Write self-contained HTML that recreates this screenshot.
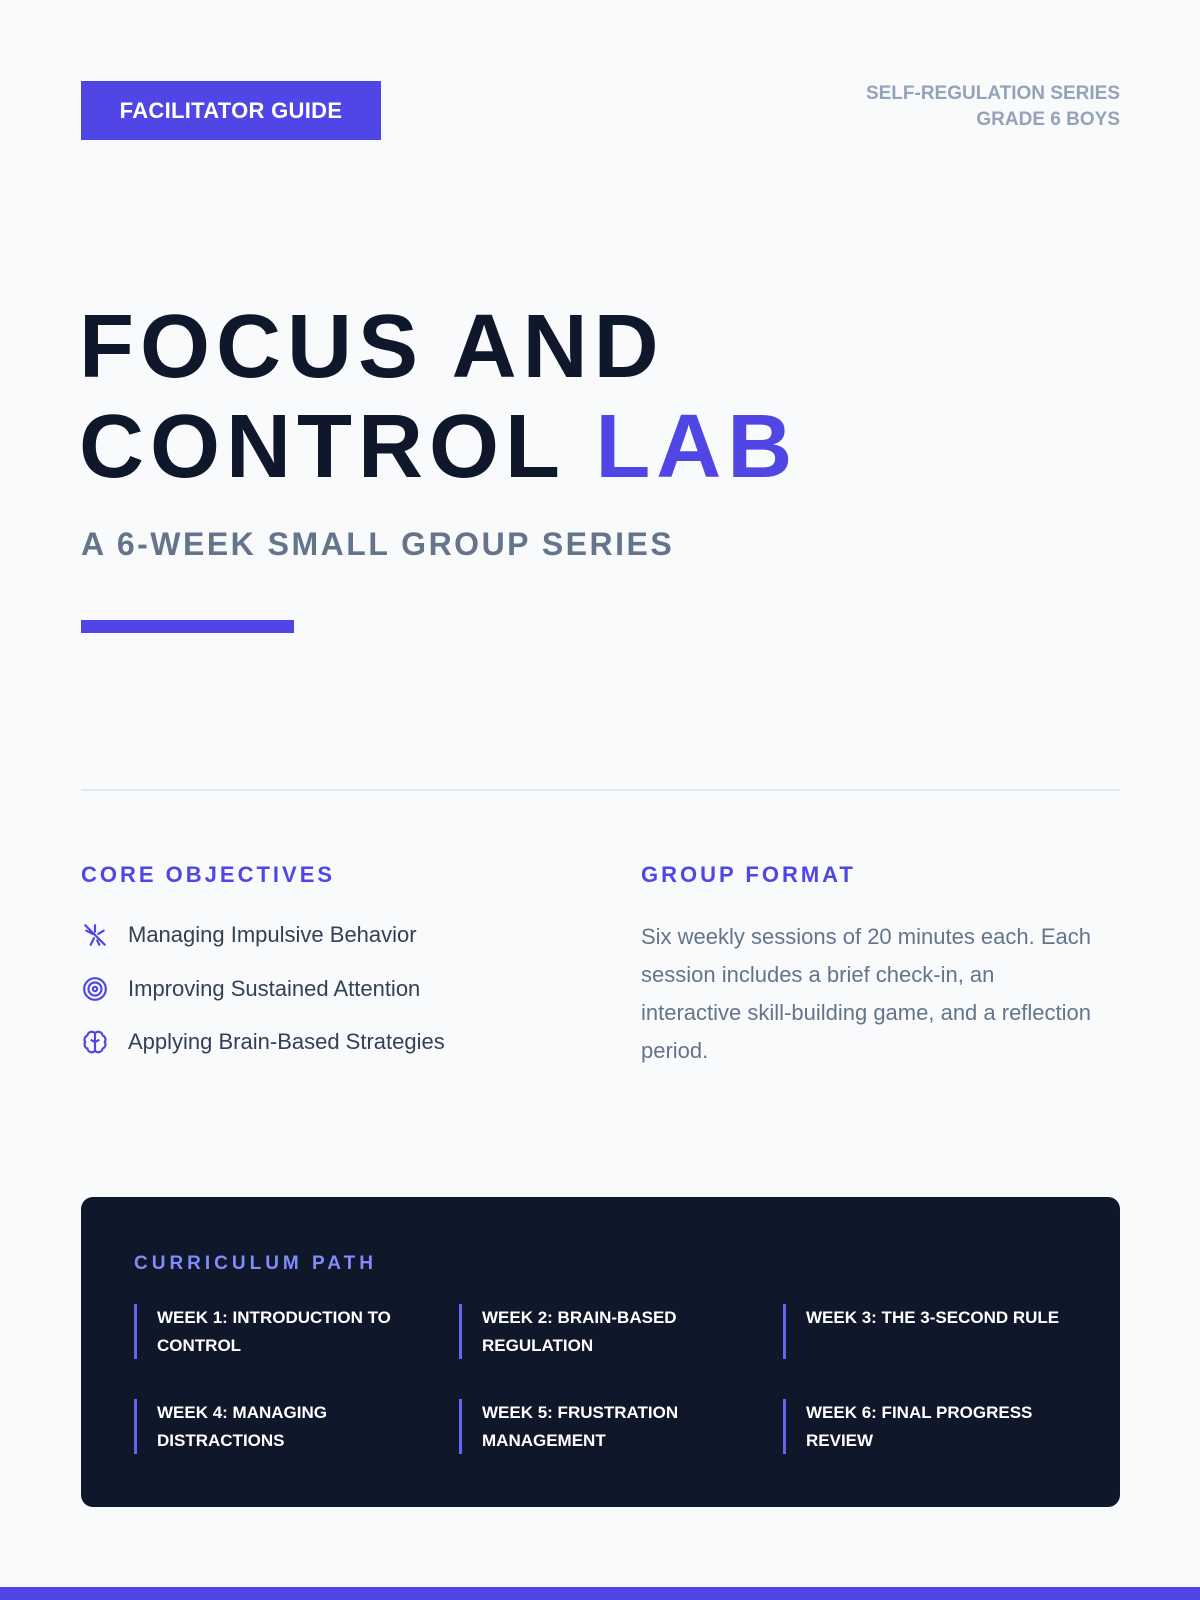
<!DOCTYPE html>
<html><head><meta charset="utf-8"><style>
*{margin:0;padding:0;box-sizing:border-box}
body{width:1200px;height:1600px;background:#f8fafc;font-family:"Liberation Sans",sans-serif;position:relative;overflow:hidden}
.a{position:absolute}
.badge{left:81px;top:81px;width:300px;height:59px;background:#4f46e5;color:#fff;font-weight:700;font-size:22px;line-height:59px;text-align:center;letter-spacing:0.3px}
.tr{right:80px;top:81px;text-align:right;color:#94a3b8;font-weight:700;font-size:19px;line-height:26px}
.title{left:79px;top:297px;font-size:90px;font-weight:900;line-height:100px;color:#0f172a;letter-spacing:6px}
.sub{left:81px;top:524px;font-size:32px;font-weight:700;color:#64748b;letter-spacing:2.5px;line-height:40px}
.h{font-size:22px;font-weight:700;color:#4f46e5;letter-spacing:3px;line-height:26px}
.obj{left:82px;font-size:22px;color:#334155;line-height:28px;display:flex;align-items:center}
.obj svg{width:26px;height:26px;margin-right:20px}
.para{left:641px;top:918px;width:453px;font-size:22px;line-height:38px;color:#64748b}
.box{left:81px;top:1197px;width:1039px;height:310px;background:#0f172a;border-radius:12px}
.item{border-left:3px solid #6366f1;padding-left:20px;height:55px;color:#fff;font-weight:700;font-size:17px;line-height:28px;width:300px}
</style></head><body>
<div class="a badge">FACILITATOR GUIDE</div>
<div class="a tr">SELF-REGULATION SERIES<br>GRADE 6 BOYS</div>
<div class="a title">FOCUS AND<br>CONTROL <span style="color:#4f46e5">LAB</span></div>
<div class="a sub">A 6-WEEK SMALL GROUP SERIES</div>
<div class="a" style="left:81px;top:620px;width:213px;height:13px;background:#4f46e5"></div>
<div class="a" style="left:81px;top:789px;width:1039px;height:2px;background:#e2e8f0"></div>
<div class="a h" style="left:81px;top:862px">CORE OBJECTIVES</div>
<div class="a h" style="left:641px;top:862px">GROUP FORMAT</div>
<div class="a obj" style="top:921px"><svg viewBox="0 0 24 24" fill="none" stroke="#4f46e5" stroke-width="2" stroke-linecap="round"><path d="M3 3l18 18M12 3v6M4 8l6 3M20 8l-5 3M8 21l3-6M16 21l-2-4"/></svg>Managing Impulsive Behavior</div>
<div class="a obj" style="top:975px"><svg viewBox="0 0 24 24" fill="none" stroke="#4f46e5" stroke-width="2"><circle cx="12" cy="12" r="10"/><circle cx="12" cy="12" r="6"/><circle cx="12" cy="12" r="2"/></svg>Improving Sustained Attention</div>
<div class="a obj" style="top:1028px"><svg viewBox="0 0 24 24" fill="none" stroke="#4f46e5" stroke-width="2" stroke-linejoin="round"><path d="M12 4a4 4 0 0 0-7 2 4 4 0 0 0-2 6 4 4 0 0 0 2 6 4 4 0 0 0 7 2a4 4 0 0 0 7-2 4 4 0 0 0 2-6 4 4 0 0 0-2-6 4 4 0 0 0-7-2zM12 4v16M8 10l4 2 4-2"/></svg>Applying Brain-Based Strategies</div>
<div class="a para">Six weekly sessions of 20 minutes each. Each session includes a brief check-in, an interactive skill-building game, and a reflection period.</div>
<div class="a box"></div>
<div class="a" style="left:134px;top:1253px;font-size:19px;font-weight:700;color:#818cf8;letter-spacing:4px">CURRICULUM PATH</div>
<div class="a item" style="left:134px;top:1304px">WEEK 1: INTRODUCTION TO CONTROL</div>
<div class="a item" style="left:459px;top:1304px">WEEK 2: BRAIN-BASED REGULATION</div>
<div class="a item" style="left:783px;top:1304px">WEEK 3: THE 3-SECOND RULE</div>
<div class="a item" style="left:134px;top:1399px">WEEK 4: MANAGING DISTRACTIONS</div>
<div class="a item" style="left:459px;top:1399px">WEEK 5: FRUSTRATION MANAGEMENT</div>
<div class="a item" style="left:783px;top:1399px">WEEK 6: FINAL PROGRESS REVIEW</div>
<div class="a" style="left:0;top:1587px;width:1200px;height:13px;background:#4f46e5"></div>
</body></html>
